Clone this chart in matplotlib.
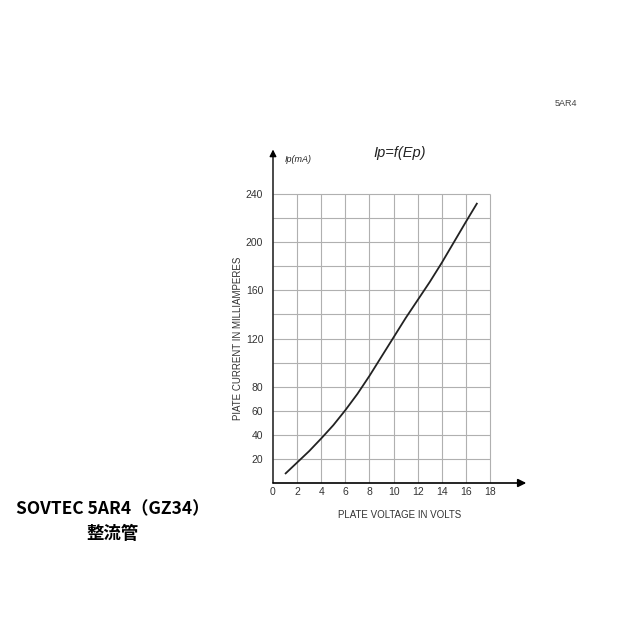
import numpy as np
import matplotlib.pyplot as plt

plt.rcParams['font.family'] = ['Liberation Sans', 'DejaVu Sans']

# plate voltage (V) vs plate current (mA)
volts = [1.05, 2, 3, 4, 5, 6, 7, 8, 9, 10, 11, 12, 13, 14, 15, 16, 16.9]
current = [8, 17, 26.5, 37, 48, 60.5, 74, 89, 105, 121, 137, 152, 167, 183, 200, 217, 232]

x_grid = [0, 2, 4, 6, 8, 10, 12, 14, 16, 18]
y_grid = [20, 40, 60, 80, 100, 120, 140, 160, 180, 200, 220, 240]
y_ticks = [20, 40, 60, 80, 120, 160, 200, 240]

fig = plt.figure(figsize=(6.4, 6.4), dpi=100)
fig.patch.set_facecolor('white')

# x: 0 at 273 px, 12.06 px/unit ; y: 0 at 483 px, 1.204 px/unit
ax = fig.add_axes([273 / 640, (640 - 483) / 640, 21 * 12.06 / 640, 280 * 1.204 / 640])
ax.set_xlim(0, 21)
ax.set_ylim(0, 280)
for s in ax.spines.values():
    s.set_visible(False)

ax.vlines(x_grid[1:], 0, 240, color='#b0b0b0', lw=0.8)
ax.hlines(y_grid, 0, 18, color='#b0b0b0', lw=0.8)

# axes with arrows
ax.annotate('', xy=(21, 0), xytext=(0, 0),
            arrowprops=dict(arrowstyle='-|>', color='black', lw=1.2,
                            mutation_scale=12, shrinkA=0, shrinkB=0))
ax.annotate('', xy=(0, 277), xytext=(0, 0),
            arrowprops=dict(arrowstyle='-|>', color='black', lw=1.0,
                            mutation_scale=10, shrinkA=0, shrinkB=0))

ax.plot(volts, current, color='#222222', lw=1.3)

ax.set_xticks(x_grid)
ax.set_xticklabels([str(v) for v in x_grid])
ax.set_yticks(y_ticks)
ax.set_yticklabels([str(v) for v in y_ticks])
ax.tick_params(length=0, labelsize=7.5, colors='#333333', pad=3)
ax.tick_params(axis='y', pad=7)

ax.set_xlabel('PLATE VOLTAGE IN VOLTS', fontsize=7, color='#333333', labelpad=9)
ax.set_ylabel('PIATE CURRENT IN MILLIAMPERES', fontsize=7, color='#333333')
ax.yaxis.set_label_coords(-0.118, 0.43)

ax.text(1.0, 269, 'Ip(mA)', fontsize=6.5, style='italic', va='center', ha='left', color='#222222')
ax.text(10.5, 274, 'Ip=f(Ep)', fontsize=10.5, style='italic', va='center', ha='center', color='#222222')

fig.text(566 / 640, 1 - 103 / 640, '5AR4', fontsize=6.5, color='#444444', ha='center', va='center')
fig.text(113 / 640, 1 - 509 / 640, 'SOVTEC 5AR4（GZ34）', fontsize=12.5, ha='center', va='center',
         weight='bold', family=['Noto Sans CJK JP', 'DejaVu Sans'])
fig.text(113 / 640, 1 - 534 / 640, '整流管', fontsize=12.5, ha='center', va='center',
         weight='bold', family=['Noto Sans CJK JP', 'DejaVu Sans'])

fig.savefig('out.png', dpi=100, facecolor='white')
